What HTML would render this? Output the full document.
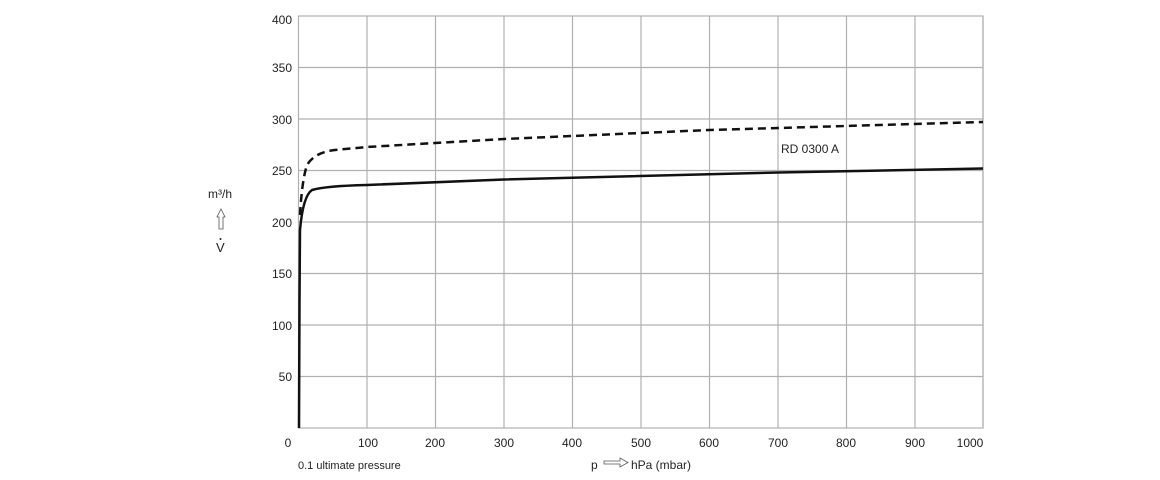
<!DOCTYPE html>
<html><head><meta charset="utf-8"><style>body{margin:0;background:#fff}svg{display:block}text{font-family:"Liberation Sans",sans-serif;font-size:12px;fill:#222}</style></head><body>
<svg width="1160" height="480" viewBox="0 0 1160 480">
<g stroke="#b0b0b0" stroke-width="1.2" fill="none">
<line x1="367" y1="16" x2="367" y2="428"/><line x1="435.5" y1="16" x2="435.5" y2="428"/><line x1="504" y1="16" x2="504" y2="428"/><line x1="572.5" y1="16" x2="572.5" y2="428"/><line x1="641" y1="16" x2="641" y2="428"/><line x1="709.5" y1="16" x2="709.5" y2="428"/><line x1="778" y1="16" x2="778" y2="428"/><line x1="846.5" y1="16" x2="846.5" y2="428"/><line x1="915" y1="16" x2="915" y2="428"/><line x1="983" y1="16" x2="983" y2="428"/>
<line x1="298.5" y1="376.5" x2="983" y2="376.5"/><line x1="298.5" y1="325" x2="983" y2="325"/><line x1="298.5" y1="273.5" x2="983" y2="273.5"/><line x1="298.5" y1="222" x2="983" y2="222"/><line x1="298.5" y1="170.5" x2="983" y2="170.5"/><line x1="298.5" y1="119" x2="983" y2="119"/><line x1="298.5" y1="67.5" x2="983" y2="67.5"/>
<rect x="298.5" y="16" width="684.5" height="412"/>
</g>
<path d="M299,428 L299.5,300 L300,230 Q303,196 312,190 Q325,186 367,185 L504,179.5 L778,172.5 L983,168.5" fill="none" stroke="#111" stroke-width="2.5"/>
<path d="M300,215 Q302,180 307,165 Q315,152 335,150 L367,147 L504,139 L709,130 L983,122" fill="none" stroke="#111" stroke-width="2.5" stroke-dasharray="8,5"/>
<g text-anchor="end">
<text x="292" y="24">400</text><text x="292" y="72">350</text><text x="292" y="124">300</text><text x="292" y="175">250</text><text x="292" y="227">200</text><text x="292" y="278">150</text><text x="292" y="330">100</text><text x="292" y="381">50</text></g>
<g text-anchor="middle">
<text x="288" y="447">0</text><text x="368" y="447">100</text><text x="435" y="447">200</text><text x="504" y="447">300</text><text x="572" y="447">400</text><text x="641" y="447">500</text><text x="709" y="447">600</text><text x="778" y="447">700</text><text x="846" y="447">800</text><text x="915" y="447">900</text><text x="970" y="447">1000</text></g>
<text x="298" y="469" style="font-size:11px">0.1 ultimate pressure</text>
<text x="591" y="469">p</text>
<path d="M604,461 h16 l0,-3 l8,4.5 l-8,4.5 l0,-3 h-16 z" fill="#fff" stroke="#555" stroke-width="0.8"/>
<text x="631" y="469">hPa (mbar)</text>
<text x="781" y="153">RD 0300 A</text>
<text x="208" y="198">m³/h</text>
<path d="M219,229 v-12 h-2 l4,-8 l4,8 h-2 v12 z" fill="#fff" stroke="#555" stroke-width="0.8"/>
<text x="216" y="252" style="font-size:13px">V</text>
<circle cx="220.5" cy="239" r="1" fill="#222"/>
</svg>
</body></html>
